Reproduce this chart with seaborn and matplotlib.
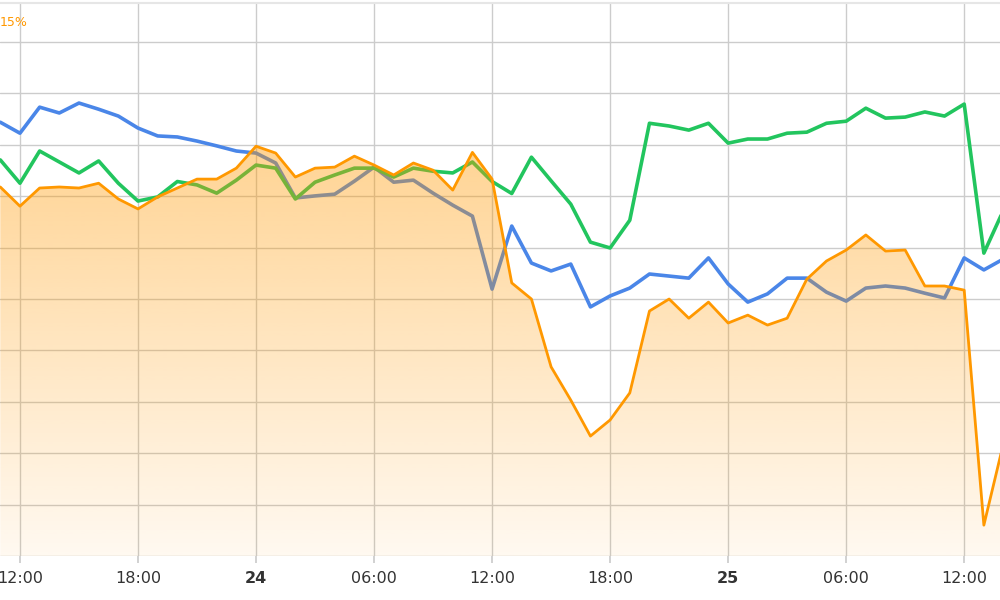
import numpy as np
import pandas as pd
import matplotlib
matplotlib.use("Agg")
import matplotlib.pyplot as plt
import seaborn as sns
from matplotlib.colors import LinearSegmentedColormap

hours = list(range(52))  # hourly from 23rd 11:00
blue = [12.66,12.34,13.10,12.93,13.22,13.04,12.84,12.49,12.26,12.23,
        12.11,11.97,11.82,11.76,11.47,10.45,10.51,10.56,10.94,11.35,
        10.91,10.97,10.59,10.24,9.92,7.79,9.63,8.55,8.32,8.52,
        7.27,7.59,7.82,8.23,8.17,8.11,8.70,7.94,7.41,7.65,
        8.11,8.11,7.70,7.44,7.82,7.88,7.82,7.67,7.53,8.70,
        8.35,8.67]
green = [11.56,10.88,11.82,11.50,11.18,11.53,10.88,10.36,10.48,10.93,
         10.83,10.59,10.97,11.41,11.32,10.42,10.91,11.12,11.32,11.32,
         11.06,11.32,11.23,11.18,11.50,10.93,10.58,11.64,10.95,10.27,
         9.16,8.99,9.80,12.63,12.55,12.43,12.63,12.05,12.17,12.17,
         12.34,12.37,12.63,12.69,13.07,12.78,12.81,12.96,12.84,13.19,
         8.84,10.10]
orange = [10.77,10.21,10.74,10.77,10.74,10.88,10.42,10.13,10.48,10.74,
          11.00,11.00,11.32,11.96,11.76,11.06,11.32,11.35,11.67,11.41,
          11.12,11.47,11.26,10.68,11.78,11.00,7.97,7.50,5.52,4.55,
          3.50,3.97,4.76,7.15,7.50,6.94,7.41,6.80,7.03,6.74,
          6.94,8.08,8.61,8.93,9.37,8.90,8.93,7.88,7.88,7.76,
          0.90,3.30]
tick_pos = [1, 7, 13, 19, 25, 31, 37, 43, 49]
tick_labels = ["12:00", "18:00", "24", "06:00", "12:00", "18:00", "25", "06:00", "12:00"]
ymax = 16.14

sns.set_theme(style="white")
plt.rcParams['font.family'] = ['DejaVu Sans']

fig = plt.figure(figsize=(10, 6), dpi=100)
ax = fig.add_axes([0, 44/600, 1, 553/600])

df = pd.DataFrame({"h": hours, "blue": blue, "green": green, "orange": orange})
sns.lineplot(data=df, x="h", y="blue", ax=ax, color="#4a86e8", lw=2.6, zorder=2)
sns.lineplot(data=df, x="h", y="green", ax=ax, color="#22c55e", lw=2.6, zorder=2)

# gradient fill under orange, drawn over the other lines
poly = ax.fill_between(df["h"], 0, df["orange"], color="none", lw=0, zorder=3)
cmap = LinearSegmentedColormap.from_list("o", [(1, 0.6, 0.0, 0.06), (1, 0.6, 0.0, 0.55)])
grad = np.linspace(0, 1, 256).reshape(-1, 1)
im = ax.imshow(grad, cmap=cmap, origin="lower", aspect="auto",
               extent=[-1, 52, 0, ymax], zorder=3, interpolation="bilinear")
im.set_clip_path(poly.get_paths()[0], transform=ax.transData)
sns.lineplot(data=df, x="h", y="orange", ax=ax, color="#ff9800", lw=2.0, zorder=4)

ax.set_xlim(-0.015, 50.82)
ax.set_ylim(0, ymax)
ax.set_yticks(np.arange(0, 15.1, 1.5))
ax.set_yticklabels([])
ax.set_xticks(tick_pos)
ax.set_xticklabels(tick_labels)
for lbl in ax.get_xticklabels():
    lbl.set_color("#333333")
    lbl.set_fontsize(11.5)
    if lbl.get_text() in ("24", "25"):
        lbl.set_fontweight("bold")
ax.tick_params(axis="x", length=5, color="#cccccc", pad=6, bottom=True)
ax.tick_params(axis="y", length=0)
ax.grid(True, color="#cccccc", lw=1)
ax.set_xlabel("")
ax.set_ylabel("")
for s in ["left", "right", "bottom"]:
    ax.spines[s].set_visible(False)
ax.spines["top"].set_color("#e6e6e6")
ax.spines["top"].set_linewidth(1.5)

fig.text(0.0, 1 - 22/600, "15%", color="#ff9800", fontsize=9, ha="left", va="center")

fig.savefig("out.png", dpi=100)
